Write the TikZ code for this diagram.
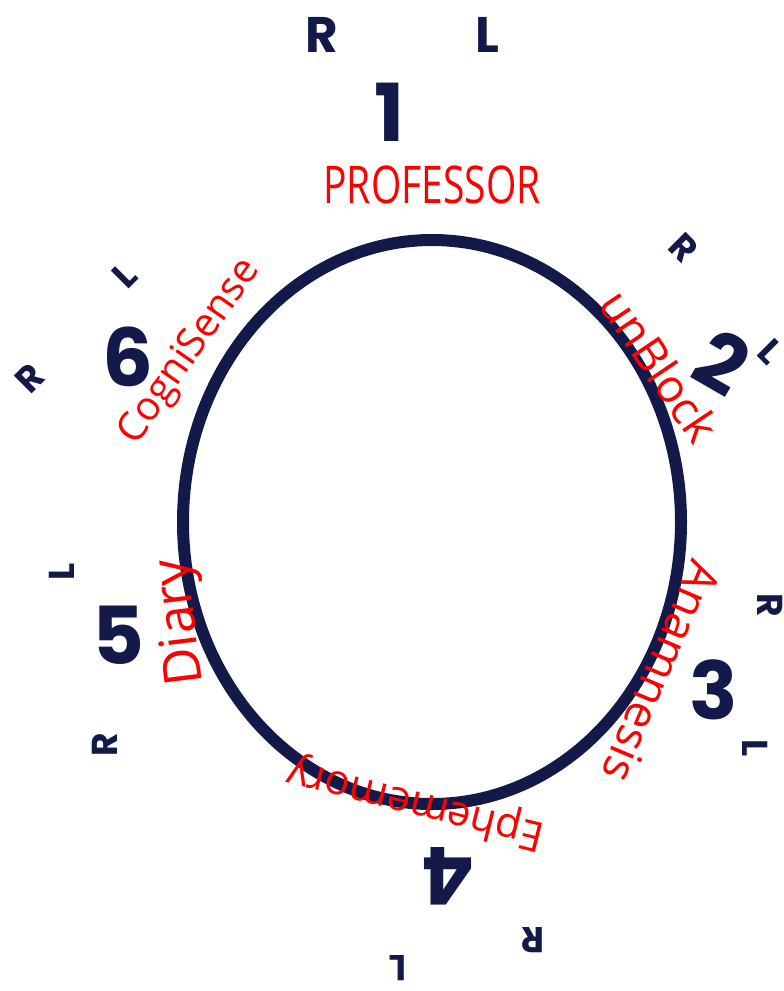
\documentclass[tikz,border=0pt]{standalone}
\usepackage{fontspec}
\newfontfamily\navyfont{Poppins}
\newfontfamily\redfont{Open Sans}
\definecolor{navy}{HTML}{131A4A}
\definecolor{inkred}{HTML}{FF0000}
\begin{document}
\begin{tikzpicture}[x=1pt,y=-1pt,
  numlbl/.style={text=navy,font=\navyfont\bfseries\fontsize{80}{80}\selectfont,inner sep=0pt},
  letlbl/.style={text=navy,font=\navyfont\bfseries\fontsize{50}{50}\selectfont,inner sep=0pt},
  smalllet/.style={text=navy,font=\navyfont\bfseries\fontsize{36}{36}\selectfont,inner sep=0pt},
  redlbl/.style={text=inkred,font=\redfont\fontsize{44}{44}\selectfont,inner sep=0pt},
  ring/.style={draw=navy,line width=12pt}]
\useasboundingbox[fill=white] (0,0) rectangle (784,991);
\draw[ring] (432,522) ellipse [x radius=249, y radius=282];
% numbers
\node[numlbl] (n1) at (390,112) {1};
\node[numlbl,rotate=-30] (n2) at (722,362) {2};
\node[numlbl] (n3) at (714,690) {3};
\node[numlbl,rotate=180] (n4) at (448,876) {4};
\node[numlbl] (n5) at (118,635) {5};
\node[numlbl] (n6) at (128,357) {6};
% R / L marks
\node[letlbl] (r1) at (322,35) {R};
\node[letlbl] (l1) at (487,35) {L};
\node[smalllet,rotate=-45] (r2) at (684,248) {R};
\node[smalllet,rotate=-45] (l2) at (770,352) {L};
\node[smalllet,rotate=-90] (r3) at (770,605) {R};
\node[smalllet,rotate=-90] (l3) at (755,748) {L};
\node[smalllet,rotate=180] (r4) at (533,940) {R};
\node[smalllet,rotate=180] (l4) at (398,968) {L};
\node[smalllet,rotate=90] (l5) at (62,572) {L};
\node[smalllet,rotate=90] (r5) at (105,745) {R};
\node[smalllet,rotate=45] (l6) at (125,275) {L};
\node[smalllet,rotate=45] (r6) at (30,378) {R};
% red labels
\node[redlbl,font=\redfont\fontsize{52}{52}\selectfont] (prof) at (432,185) {\scalebox{0.75}[1]{PROFESSOR}};
\node[redlbl,font=\redfont\fontsize{40}{40}\selectfont,rotate=55] (cogni) at (190,352) {CogniSense};
\node[redlbl,font=\redfont\fontsize{46}{46}\selectfont,rotate=-56] (unb) at (660,366) {unBlock};
\node[redlbl,font=\redfont\fontsize{46}{46}\selectfont,rotate=-113] (anam) at (662,672) {Anamnesis};
\node[redlbl,font=\redfont\fontsize{42}{42}\selectfont,rotate=166] (ephem) at (416,803) {Ephememory};
\node[redlbl,font=\redfont\fontsize{52}{52}\selectfont,rotate=97] (diary) at (182,622) {Diary};
\end{tikzpicture}
\end{document}
